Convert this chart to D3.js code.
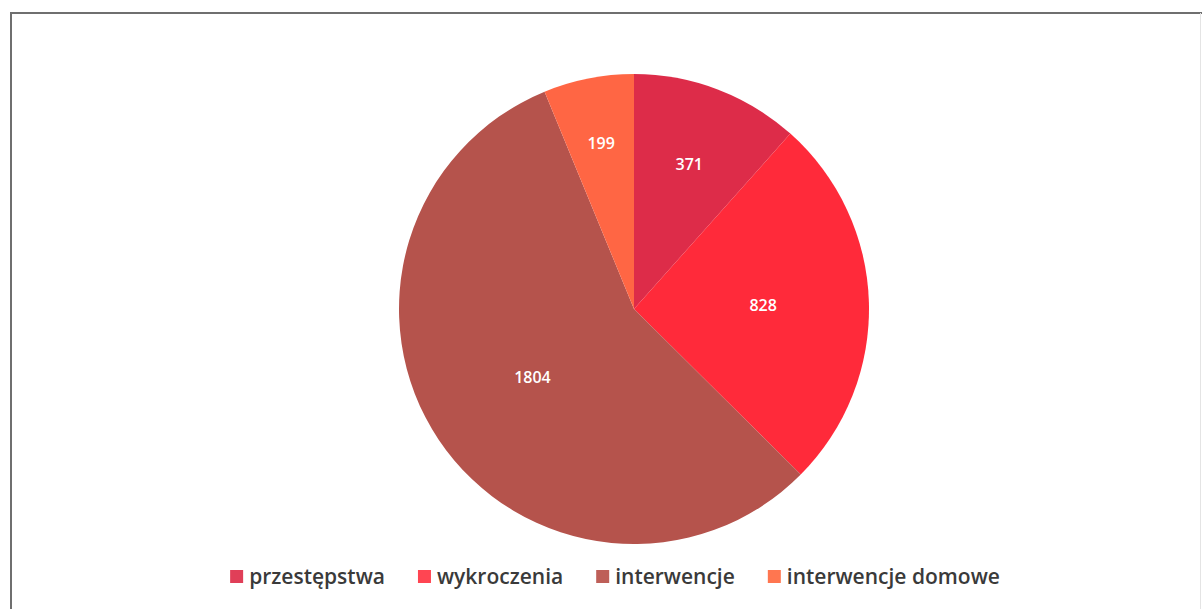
<!DOCTYPE html>
<html><head><meta charset="utf-8">
<script src="https://cdn.jsdelivr.net/npm/d3@7"></script>
<style>body{margin:0;background:#fff}svg{display:block}</style>
</head><body>
<svg id="c" width="1202" height="609"></svg>
<script>
const categories = ["przestępstwa", "wykroczenia", "interwencje", "interwencje domowe"];
const values = [371, 828, 1804, 199];
const sliceColors = ["#DD2C49", "#FF2A3A", "#B5534C", "#FF6644"];
const legendColors = ["#E03F58", "#FF4552", "#BE5F58", "#FF7650"];
const labelRadiusFactor = [0.66, 0.55, 0.52, 0.72];

const svg = d3.select("#c");
// frame
svg.append("path").attr("d", "M11,609 L11,13 L1202,13").attr("fill", "none").attr("stroke", "#6f6f6f").attr("stroke-width", 2);
svg.append("line").attr("x1", 1200.5).attr("x2", 1200.5).attr("y1", 13).attr("y2", 609).attr("stroke", "#e4e4e4").attr("stroke-width", 1);

const cx = 634, cy = 309, r = 235;
const pie = d3.pie().sort(null).value(d => d)(values);
const arc = d3.arc().innerRadius(0).outerRadius(r);
const g = svg.append("g").attr("transform", `translate(${cx},${cy})`);
g.selectAll("path").data(pie).join("path")
  .attr("d", arc).attr("fill", (d, i) => sliceColors[i]);
g.selectAll("text").data(pie).join("text")
  .attr("transform", (d, i) => {
    const lr = r * labelRadiusFactor[i];
    const a = (d.startAngle + d.endAngle) / 2;
    return `translate(${Math.sin(a) * lr},${-Math.cos(a) * lr})`;
  })
  .attr("text-anchor", "middle").attr("dy", "0.35em")
  .attr("font-family", "Open Sans, sans-serif").attr("font-size", 16).attr("font-weight", 600)
  .attr("fill", "#fff").text(d => d.data);

// legend
const lg = svg.append("g").attr("transform", "translate(0,577)");
const items = lg.selectAll("g").data(categories).join("g");
items.append("rect").attr("width", 13).attr("height", 13).attr("y", -7).attr("fill", (d, i) => legendColors[i]);
items.append("text").attr("x", 19).attr("dy", "0.35em")
  .attr("font-family", "Open Sans, sans-serif").attr("font-size", 21).attr("font-weight", 600)
  .attr("fill", "#3a3a3a").text(d => d);
let widths = [];
items.each(function () { widths.push(19 + this.querySelector("text").getComputedTextLength()); });
const gap = 33;
const total = d3.sum(widths) + gap * (widths.length - 1);
let x = 615 - total / 2;
items.attr("transform", (d, i) => { const t = `translate(${x},0)`; x += widths[i] + gap; return t; });
</script>
</body></html>
